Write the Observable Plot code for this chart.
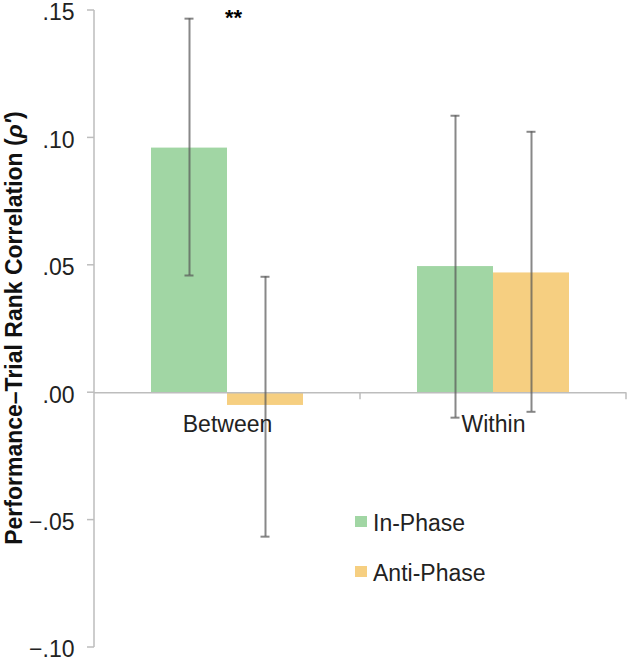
<!DOCTYPE html>
<html><head><meta charset="utf-8">
<script src="https://cdn.jsdelivr.net/npm/d3@7"></script>
<script src="https://cdn.jsdelivr.net/npm/@observablehq/plot@0.6"></script>
<style>
body{margin:0;background:#fff;font-family:"Liberation Sans",Arial,sans-serif;}
#wrap{position:relative;width:630px;height:661px;}
.sw{position:absolute;width:12px;height:11px;}
.lt{position:absolute;font-size:23px;line-height:28px;color:#222;white-space:nowrap;}
</style></head><body><div id="wrap"></div>
<script>
// ---- data ----
const conditions = ["Between", "Within"];
const phases = ["In-Phase", "Anti-Phase"];
const phaseColors = ["#a1d6a4", "#f6cf81"];
const inPhaseMean = [0.096, 0.0495];
const inPhaseLow = [0.046, -0.0098];
const inPhaseHigh = [0.1468, 0.1087];
const antiPhaseMean = [-0.005, 0.047];
const antiPhaseLow = [-0.0565, -0.0075];
const antiPhaseHigh = [0.0455, 0.1024];
const significance = ["**", ""];
const yTicks = [-0.10, -0.05, 0.00, 0.05, 0.10, 0.15];
const yLabel = "Performance\u2013Trial Rank Correlation";

// ---- table built from arrays ----
const rows = [];
conditions.forEach((c, i) => {
  rows.push({condition: c, phase: phases[0], mean: inPhaseMean[i], low: inPhaseLow[i], high: inPhaseHigh[i]});
  rows.push({condition: c, phase: phases[1], mean: antiPhaseMean[i], low: antiPhaseLow[i], high: antiPhaseHigh[i]});
});
const sigRows = conditions.map((c, i) => ({condition: c, phase: phases[0], y: inPhaseHigh[i], label: significance[i]})).filter(d => d.label);
const condRows = conditions.map(c => ({condition: c, y: 0}));
const tickRows = yTicks.map(v => ({condition: conditions[0], v}));

const axisGray = "#bdbdbd";
const fmt = d => d3.format(".2f")(d).replace("0.", ".");

const plot = Plot.plot({
  width: 630, height: 661,
  marginLeft: 93, marginRight: 4, marginTop: 10, marginBottom: 14,
  style: {fontFamily: "'Liberation Sans', Arial, sans-serif", fontSize: "23px", color: "#222", background: "white", overflow: "visible"},
  fx: {domain: conditions, paddingInner: 0, paddingOuter: 0, axis: null},
  x: {domain: phases, paddingInner: 0, paddingOuter: 0.742, axis: null},
  y: {domain: [-0.10, 0.15], axis: null},
  color: {domain: phases, range: phaseColors},
  marks: [
    Plot.barY(rows, {fx: "condition", x: "phase", y: "mean", fill: "phase"}),
    Plot.ruleY(condRows, {fx: "condition", y: "y", stroke: axisGray, strokeWidth: 1.5}),
    Plot.ruleY(condRows, {fx: "condition", y: "y", render: (index, scales, values, dimensions) => {
      const g = d3.create("svg:g").attr("stroke", axisGray).attr("stroke-width", 1.5);
      if (!index.length) return g.node();
      const right = dimensions.width - dimensions.marginRight;
      const left = dimensions.marginLeft;
      const y0 = scales.y(0);
      g.append("line").attr("x1", right).attr("x2", right).attr("y1", y0).attr("y2", y0 + 7);
      if (condRows[index[0]].condition === conditions[0]) {
        const [ya, yb] = [scales.y(0.15), scales.y(-0.10)];
        g.append("line").attr("x1", left).attr("x2", left).attr("y1", ya).attr("y2", yb);
        yTicks.forEach(v => g.append("line").attr("x1", left - 7).attr("x2", left).attr("y1", scales.y(v)).attr("y2", scales.y(v)));
      }
      return g.node();
    }}),
    Plot.text(tickRows, {fx: "condition", y: "v", text: d => fmt(d.v), frameAnchor: "left", textAnchor: "end", dx: -20, dy: 2.5, fontSize: 23, fill: "#222"}),
    Plot.ruleX(rows, {fx: "condition", x: "phase", y1: "low", y2: "high", stroke: "#555", strokeOpacity: 0.7, strokeWidth: 2}),
    Plot.tickY(rows, {fx: "condition", x: "phase", y: "high", stroke: "#555", strokeOpacity: 0.7, strokeWidth: 2, insetLeft: 33.5, insetRight: 33.5}),
    Plot.tickY(rows, {fx: "condition", x: "phase", y: "low", stroke: "#555", strokeOpacity: 0.7, strokeWidth: 2, insetLeft: 33.5, insetRight: 33.5}),
    Plot.text(condRows, {fx: "condition", y: "y", text: "condition", frameAnchor: "middle", textAnchor: "middle", dy: 32, fontSize: 23, fill: "#222"}),
    Plot.text(sigRows, {fx: "condition", x: "phase", y: "y", text: "label", dx: 44, dy: -1, fontSize: 22, fontWeight: "bold", fill: "#000"})
  ]
});

// y-axis title with italic rho
const svg = d3.select(plot);
const t = svg.append("text")
  .attr("transform", "translate(22,328) rotate(-90)")
  .attr("text-anchor", "middle")
  .attr("font-weight", "bold")
  .attr("font-size", 23)
  .attr("fill", "#111");
t.append("tspan").text(yLabel + " (");
t.append("tspan").attr("font-style", "italic").text("\u03C1\u2032");
t.append("tspan").text(")");

const wrap = document.getElementById("wrap");
wrap.appendChild(plot);

// legend (placed inside the plot area like the reference)
const legendTop = [509, 559];
phases.forEach((p, i) => {
  const sw = document.createElement("div");
  sw.className = "sw";
  sw.style.left = "355px";
  sw.style.top = (legendTop[i] + 7) + "px";
  sw.style.background = phaseColors[i];
  wrap.appendChild(sw);
  const lt = document.createElement("div");
  lt.className = "lt";
  lt.style.left = "373px";
  lt.style.top = legendTop[i] + "px";
  lt.textContent = p;
  wrap.appendChild(lt);
});
</script></body></html>
